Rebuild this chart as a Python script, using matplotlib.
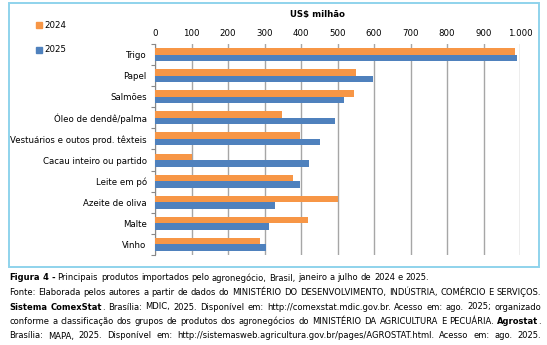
import matplotlib
matplotlib.use("Agg")
import matplotlib.pyplot as plt
from matplotlib.patches import Rectangle
import numpy as np

categories = ["Trigo", "Papel", "Salmões", "Óleo de dendê/palma",
              "Vestuários e outos prod. têxteis", "Cacau inteiro ou partido",
              "Leite em pó", "Azeite de oliva", "Malte", "Vinho"]
values_2024 = [986, 551, 545, 347, 397, 102, 379, 502, 418, 288]
values_2025 = [991, 598, 518, 494, 452, 423, 397, 330, 311, 305]
tick_values = list(range(0, 1001, 100))
tick_labels = ["0", "100", "200", "300", "400", "500", "600", "700", "800", "900", "1.000"]

ORANGE = "#F79646"
BLUE = "#4F81BD"
W, H = 547, 345
FS = 6.2

plt.rcParams["font.family"] = ["DejaVu Sans"]
fig = plt.figure(figsize=(W / 100, H / 100), dpi=100)

# outer frame around the chart
fig.patches.append(Rectangle((8.5 / W, 1 - 267 / H), 530.5 / W, 264 / H,
                             transform=fig.transFigure, fill=False,
                             edgecolor="#8FD3EC", linewidth=1.4))

ax = fig.add_axes([155 / W, 1 - 255 / H, 365 / W, 211 / H])
y = np.arange(len(categories))
bh = 0.31
ax.barh(y - bh / 2, values_2024, height=bh, color=ORANGE, label="2024", zorder=3)
ax.barh(y + bh / 2, values_2025, height=bh, color=BLUE, label="2025", zorder=3)
ax.set_ylim(len(categories) - 0.5, -0.5)
ax.set_xlim(0, 1000)
ax.set_xticks(tick_values)
ax.set_xticklabels(tick_labels, fontsize=FS)
ax.xaxis.tick_top()
ax.tick_params(axis="x", length=0, pad=4)
ax.set_yticks(y)
ax.set_yticklabels(categories, fontsize=FS)
ax.tick_params(axis="y", which="major", length=0, pad=6)
ax.set_yticks(np.arange(len(categories) + 1) - 0.5, minor=True)
ax.tick_params(axis="y", which="minor", length=3, color="#888888", width=0.8)
ax.grid(axis="x", color="#A6A6A6", linewidth=1, zorder=0)
for s in ["top", "right", "bottom"]:
    ax.spines[s].set_visible(False)
ax.spines["left"].set_color("#888888")
ax.spines["left"].set_linewidth(0.8)

fig.text(318 / W, 1 - 15 / H, "US$ milhão", fontsize=FS, fontweight="bold",
         ha="center", va="center")

# legend drawn as two stacked entries
for yy, col, lab in [(25, ORANGE, "2024"), (50, BLUE, "2025")]:
    fig.patches.append(Rectangle((36 / W, 1 - (yy + 3) / H), 6 / W, 6 / H,
                                 transform=fig.transFigure, color=col))
    fig.text(44 / W, 1 - yy / H, lab, fontsize=FS, va="center", ha="left")

# caption
lines = [
    [("Figura 4 - ", "bold"), ("Principais produtos importados pelo agronegócio, Brasil, janeiro a julho de 2024 e 2025.", "normal")],
    [("Fonte: Elaborada pelos autores a partir de dados do MINISTÉRIO DO DESENVOLVIMENTO, INDÚSTRIA, COMÉRCIO E SERVIÇOS.", "normal")],
    [("Sistema ComexStat", "bold"), (". Brasília: MDIC, 2025. Disponível em: http://comexstat.mdic.gov.br. Acesso em: ago. 2025; organizado", "normal")],
    [("conforme a classificação dos grupos de produtos dos agronegócios do MINISTÉRIO DA AGRICULTURA E PECUÁRIA. ", "normal"), ("Agrostat", "bold"), (".", "normal")],
    [("Brasília: MAPA, 2025. Disponível em: http://sistemasweb.agricultura.gov.br/pages/AGROSTAT.html. Acesso em: ago. 2025.", "normal")],
]
justify = [False, True, True, True, True]
ys = [278, 292.5, 307, 321.5, 336]
x0, x1 = 9, 541

fig.canvas.draw()
renderer = fig.canvas.get_renderer()


def advance(s, weight, size):
    # horizontal advance of a string; the bar cancels any fixed bbox padding
    def ext(t):
        tx = fig.text(0, 0, t, fontsize=size, fontweight=weight)
        w = tx.get_window_extent(renderer).width
        tx.remove()
        return w
    if not s:
        return 0.0
    return ext(s + "|") - ext("|")


def layout(size):
    out = []
    for runs in lines:
        pieces = []  # (text, weight, natural start, word index)
        offset = 0.0
        word_idx = 0
        prev_space = True
        for text, weight in runs:
            k = 0
            while k < len(text):
                if text[k] == " ":
                    prev_space = True
                    k += 1
                    continue
                j = text.find(" ", k)
                j = len(text) if j == -1 else j
                if prev_space and pieces:
                    word_idx += 1
                prev_space = False
                pieces.append((text[k:j], weight, offset + advance(text[:k], weight, size), word_idx))
                k = j
            offset += advance(text, weight, size)
        end = pieces[-1][2] + advance(pieces[-1][0], pieces[-1][1], size)
        out.append((pieces, end, word_idx))
    return out


cap_size = 6.5
while True:
    lay = layout(cap_size)
    ok = all(end <= x1 - x0 for (_, end, _), j in zip(lay, justify) if j)
    if ok or cap_size < 5:
        break
    cap_size -= 0.1

for (pieces, end, nwords), just, yy in zip(lay, justify, ys):
    extra = (x1 - x0 - end) / nwords if (just and nwords > 0) else 0.0
    for text, weight, start, idx in pieces:
        fig.text((x0 + start + idx * extra) / W, 1 - yy / H, text,
                 fontsize=cap_size, fontweight=weight, va="center", ha="left")

fig.savefig("out.png", dpi=100)
